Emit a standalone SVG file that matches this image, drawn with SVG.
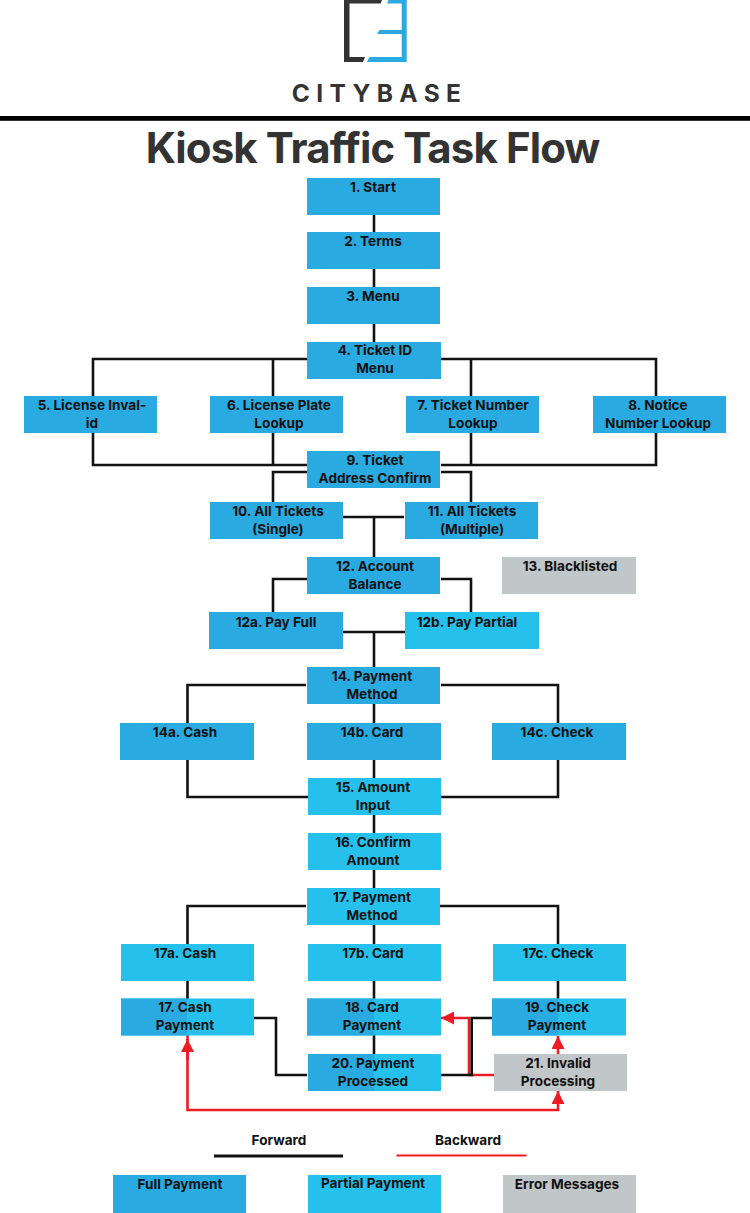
<svg xmlns="http://www.w3.org/2000/svg" width="750" height="1213" viewBox="0 0 750 1213">
<style>
text{font-family:"Inter","Liberation Sans",sans-serif;font-weight:700}
.l{font-size:13.6px;fill:#111;text-anchor:middle}
.f{fill:none;stroke:#111;stroke-width:2.6}
.r{fill:none;stroke:#ed1c24;stroke-width:2.6}
.d{fill:#29abe2}.p{fill:#25c1ec}.g{fill:#c1c6c8}
</style>
<defs>
<marker id="a" viewBox="0 0 12 12" refX="12" refY="6" markerWidth="13" markerHeight="13" markerUnits="userSpaceOnUse" orient="auto"><path d="M0 0L12 6L0 12Z" fill="#ed1c24"/></marker>
</defs>
<rect width="750" height="1213" fill="#fff"/>
<g id="logo">
<path d="M344 0H382L380.5 3.5H349.5V57H365L363 62H344Z" fill="#333"/>
<path d="M387 3.5L388.5 0H406.7V62H367L369.5 57H401.7V34H377L379.5 30H401.7V3.5Z" fill="#29abe2"/>
<text x="379.500" y="102" font-size="24.500" fill="#333" text-anchor="middle" letter-spacing="6.4">CITYBASE</text>
<rect x="0" y="116" width="750" height="4.8" fill="#000"/>
<text x="372.500" y="163" font-size="42" fill="#333" text-anchor="middle" letter-spacing="-0.9">Kiosk Traffic Task Flow</text>
</g>
<g id="connectors">
<path class="r" d="M558 1054V1036" marker-end="url(#a)"/>
<path class="r" d="M494 1075H469V1018H441" marker-end="url(#a)"/>
<path class="r" d="M187.500 1035V1040"/>
<path class="r" d="M187.500 1060V1039" marker-end="url(#a)"/>
<path class="r" d="M187.500 1050V1110H558V1091" marker-end="url(#a)"/>
<path class="f" d="M374 214V233M374 268V288M374 323V343"/>
<path class="f" d="M307 359H93V396M273 359V396M441 359H656V396M471 359V396"/>
<path class="f" d="M93 433V465H307M273 433V465M471 433V465M656 433V465H441"/>
<path class="f" d="M307 472H273V503M441 472H471V503"/>
<path class="f" d="M343 517H404M374 517V557"/>
<path class="f" d="M307 579H273V612M441 579H471V612"/>
<path class="f" d="M343 632H405M374 632V667"/>
<path class="f" d="M306 685H187.500V723M441 685H558V723M374 703V723M374 760V779"/>
<path class="f" d="M187.500 760V797H308M558 760V797H441"/>
<path class="f" d="M374 814V834M374 869V889M306 906H187.500V944M440 906H558V944M374 924V944"/>
<path class="f" d="M187.500 980V999M374 980V999M558 980V999M374 1035V1054"/>
<path class="f" d="M254 1018H276V1075H307"/>
<path class="f" d="M493 1018H471.7V1075H441"/>
<path class="f" d="M214 1156H343" style="stroke-width:3"/>
<path class="r" d="M396.500 1155.5H526.500" style="stroke-width:2.2"/>
</g>
<g id="n1"><rect class="d" x="307" y="178" width="133" height="37"/><text class="l" x="373" y="192">1. Start</text></g>
<g id="n2"><rect class="d" x="307" y="232" width="133" height="37"/><text class="l" x="373" y="246">2. Terms</text></g>
<g id="n3"><rect class="d" x="307" y="287" width="133" height="37"/><text class="l" x="373" y="301">3. Menu</text></g>
<g id="n4"><rect class="d" x="307" y="342" width="134" height="37"/><text class="l" x="375" y="355">4. Ticket ID</text><text class="l" x="375" y="373">Menu</text></g>
<g id="n5"><rect class="d" x="24" y="396" width="133" height="37"/><text class="l" x="92" y="410">5. License Inval-</text><text class="l" x="92" y="428">id</text></g>
<g id="n6"><rect class="d" x="210" y="396" width="133" height="37"/><text class="l" x="279" y="410">6. License Plate</text><text class="l" x="279" y="428">Lookup</text></g>
<g id="n7"><rect class="d" x="406" y="396" width="133" height="37"/><text class="l" x="473" y="410">7. Ticket Number</text><text class="l" x="473" y="428">Lookup</text></g>
<g id="n8"><rect class="d" x="593" y="396" width="133" height="37"/><text class="l" x="658" y="410">8. Notice</text><text class="l" x="658" y="428">Number Lookup</text></g>
<g id="n9"><rect class="d" x="307" y="451" width="133" height="37"/><text class="l" x="375" y="465">9. Ticket</text><text class="l" x="375" y="483">Address Confirm</text></g>
<g id="n10"><rect class="d" x="210" y="502" width="133" height="37"/><text class="l" x="278" y="516">10. All Tickets</text><text class="l" x="278" y="534">(Single)</text></g>
<g id="n11"><rect class="d" x="405" y="502" width="133" height="37"/><text class="l" x="472" y="516">11. All Tickets</text><text class="l" x="472" y="534">(Multiple)</text></g>
<g id="n12"><rect class="d" x="307" y="557" width="133" height="37"/><text class="l" x="375" y="571">12. Account</text><text class="l" x="375" y="589">Balance</text></g>
<g id="n13"><rect class="g" x="502" y="557" width="134" height="37"/><text class="l" x="570" y="571">13. Blacklisted</text></g>
<g id="n12a"><rect class="d" x="209" y="612" width="134" height="37"/><text class="l" x="276" y="627">12a. Pay Full</text></g>
<g id="n12b"><rect class="p" x="405" y="612" width="134" height="37"/><text class="l" x="467" y="627">12b. Pay Partial</text></g>
<g id="n14"><rect class="d" x="307" y="667" width="133" height="37"/><text class="l" x="372" y="681">14. Payment</text><text class="l" x="372" y="699">Method</text></g>
<g id="n14a"><rect class="d" x="120" y="723" width="134" height="37"/><text class="l" x="185" y="737">14a. Cash</text></g>
<g id="n14b"><rect class="d" x="307" y="723" width="134" height="37"/><text class="l" x="372" y="737">14b. Card</text></g>
<g id="n14c"><rect class="d" x="492" y="723" width="134" height="37"/><text class="l" x="557" y="737">14c. Check</text></g>
<g id="n15"><rect class="p" x="308" y="778" width="133" height="37"/><text class="l" x="373" y="792">15. Amount</text><text class="l" x="373" y="810">Input</text></g>
<g id="n16"><rect class="p" x="308" y="833" width="133" height="37"/><text class="l" x="373" y="847">16. Confirm</text><text class="l" x="373" y="865">Amount</text></g>
<g id="n17"><rect class="p" x="307" y="888" width="133" height="37"/><text class="l" x="372" y="902">17. Payment</text><text class="l" x="372" y="920">Method</text></g>
<g id="n17a"><rect class="p" x="121" y="944" width="133" height="37"/><text class="l" x="185" y="958">17a. Cash</text></g>
<g id="n17b"><rect class="p" x="308" y="944" width="133" height="37"/><text class="l" x="373" y="958">17b. Card</text></g>
<g id="n17c"><rect class="p" x="493" y="944" width="133" height="37"/><text class="l" x="558" y="958">17c. Check</text></g>
<g id="n17p"><rect class="p" x="121" y="998.500" width="133" height="37"/><rect class="d" x="121" y="998.500" width="66" height="37"/><text class="l" x="185" y="1012">17. Cash</text><text class="l" x="185" y="1030">Payment</text></g>
<g id="n18"><rect class="p" x="307" y="998.500" width="134" height="37"/><rect class="d" x="307" y="998.500" width="67" height="37"/><text class="l" x="372" y="1012">18. Card</text><text class="l" x="372" y="1030">Payment</text></g>
<g id="n19"><rect class="p" x="492" y="998.500" width="134" height="37"/><rect class="d" x="492" y="998.500" width="66" height="37"/><text class="l" x="557" y="1012">19. Check</text><text class="l" x="557" y="1030">Payment</text></g>
<g id="n20"><rect class="p" x="308" y="1054" width="133" height="37"/><rect class="d" x="308" y="1054" width="66" height="37"/><text class="l" x="373" y="1067.5">20. Payment</text><text class="l" x="373" y="1085.500">Processed</text></g>
<g id="n21"><rect class="g" x="494" y="1054" width="133" height="37"/><text class="l" x="558" y="1067.5">21. Invalid</text><text class="l" x="558" y="1085.500">Processing</text></g>
<g id="legend">
<text class="l" x="279" y="1145">Forward</text>
<text class="l" x="468" y="1145">Backward</text>
<rect class="d" x="113" y="1175" width="133" height="38"/><text class="l" x="180" y="1189">Full Payment</text>
<rect class="p" x="308" y="1175" width="133" height="38"/><text class="l" x="373" y="1188">Partial Payment</text>
<rect class="g" x="503" y="1175" width="133" height="38"/><text class="l" x="567" y="1189">Error Messages</text>
</g>
</svg>
